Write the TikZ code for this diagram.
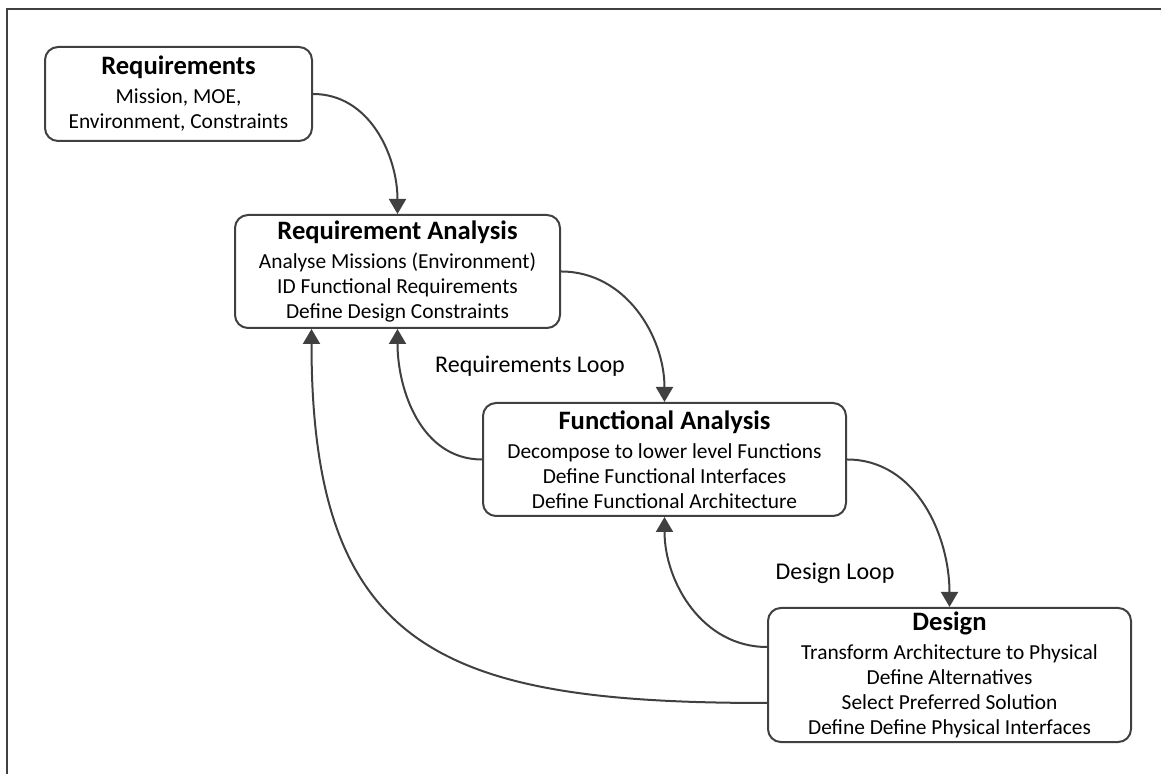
\documentclass[tikz,border=0pt]{standalone}
\usepackage{fontspec}
\setmainfont{Carlito}
\usetikzlibrary{arrows.meta}
\definecolor{linegray}{HTML}{404040}
\newcommand\stagetitle[1]{{\fontsize{13.3}{12.5}\selectfont\bfseries #1}\\[2pt]}

\begin{document}
\begin{tikzpicture}[x=0.5pt, y=0.5pt, >={Triangle[width=8.5pt,length=7.5pt]},
    stage/.style={draw=linegray, line width=1pt, rounded corners=6.5pt, fill=white,
        align=center, inner sep=2pt, font=\fontsize{10.7}{12.5}\selectfont},
    link/.style={->, draw=linegray, line width=1pt},
    looplabel/.style={font=\fontsize{12}{14}\selectfont}]
    \useasboundingbox (0,0) rectangle (1161,774);
    \draw[linegray, line width=1pt] (7,-10) -- (7,765) -- (1171,765);

    \node[stage, minimum width=133.5pt, minimum height=47pt] (req) at (178.5,680)
        {\stagetitle{Requirements}Mission, MOE,\\Environment, Constraints};
    \node[stage, minimum width=162.5pt, minimum height=56.5pt] (ra) at (397.5,502.5)
        {\stagetitle{Requirement Analysis}Analyse Missions (Environment)\\ID Functional Requirements\\Define Design Constraints};
    \node[stage, minimum width=181.5pt, minimum height=56.5pt] (fa) at (664.5,314.5)
        {\stagetitle{Functional Analysis}Decompose to lower level Functions\\Define Functional Interfaces\\Define Functional Architecture};
    \node[stage, minimum width=181.5pt, minimum height=66pt] (des) at (949.5,99)
        {\stagetitle{Design}Transform Architecture to Physical\\Define Alternatives\\Select Preferred Solution\\Define Define Physical Interfaces};

    \node[looplabel] (reqloop) at (530,408) {Requirements Loop};
    \node[looplabel] (desloop) at (835,201) {Design Loop};

    \draw[link] (req.east) to[out=0, in=90] (ra.north);
    \draw[link] (ra.east) to[out=0, in=90] (fa.north);
    \draw[link] (fa.east) to[out=0, in=90] (des.north);
    \draw[link] (fa.west) to[out=180, in=-90] (ra.south);
    \draw[link] ([yshift=14pt]des.west) to[out=180, in=-90] (fa.south);
    \draw[link] ([yshift=-14pt]des.west) to[out=180, in=-90, looseness=1.4] ([xshift=-43pt]ra.south);
\end{tikzpicture}
\end{document}
